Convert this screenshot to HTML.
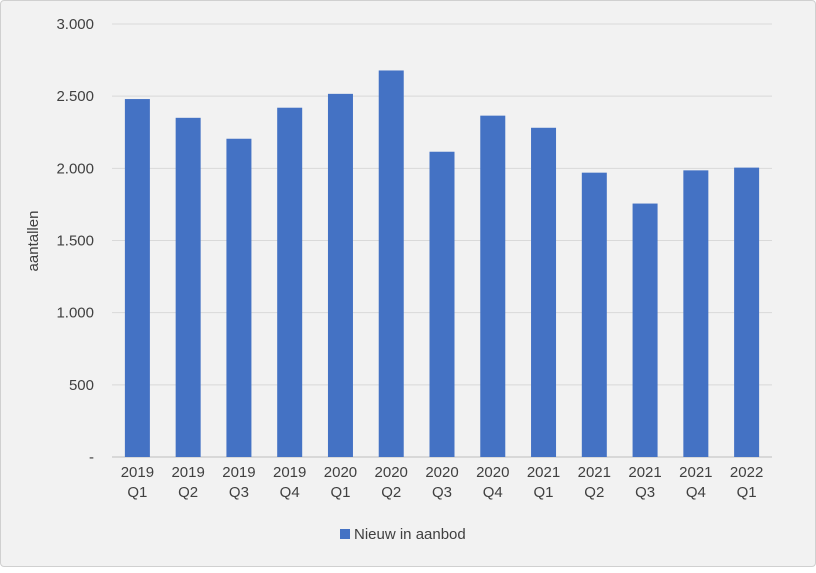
<!DOCTYPE html>
<html><head><meta charset="utf-8"><style>
body{margin:0;background:#fff}
#c{position:absolute;left:0;top:0;width:814px;height:565px;border:1px solid #d0d0d0;border-radius:4px;background:#f2f2f2}
text{font-family:"Liberation Sans",sans-serif;fill:#404040;font-size:15px}
</style></head><body>
<div id="c">
<svg id="s" width="816" height="567"></svg>
</div>
<script>
const categories=["2019 Q1","2019 Q2","2019 Q3","2019 Q4","2020 Q1","2020 Q2","2020 Q3","2020 Q4","2021 Q1","2021 Q2","2021 Q3","2021 Q4","2022 Q1"];
const values=[2480,2350,2205,2420,2516,2678,2115,2365,2281,1970,1756,1986,2005];
const ticks=[0,500,1000,1500,2000,2500,3000];
const tickLabels=["-","500","1.000","1.500","2.000","2.500","3.000"];
const seriesName="Nieuw in aanbod";
const NS="http://www.w3.org/2000/svg",s=document.getElementById('s');
const x0=111,x1=771,y0=456,y1=23,maxV=3000;
const y=v=>y0-(v/maxV)*(y0-y1);
const band=(x1-x0)/categories.length;
const xc=i=>x0+band*(i+0.5);
function mk(t,a,p){const e=document.createElementNS(NS,t);for(const k in a)e.setAttribute(k,a[k]);(p||s).appendChild(e);return e;}
ticks.forEach((t,i)=>{
 const g=mk('line',{x1:x0,x2:x1,y1:y(t),y2:y(t),stroke:i==0?'#bfbfbf':'#d9d9d9','stroke-width':1});
 
 
 const l=mk('text',{x:93,y:y(t)+5,'text-anchor':'end'});l.textContent=tickLabels[i];
 
 
});
categories.forEach((c,i)=>{
 const b=mk('rect',{x:xc(i)-12.5,y:y(values[i]),width:25,height:y0-y(values[i]),fill:'#4472c4'});
 
 
 const p=c.split(' ');
 const t=mk('text',{x:xc(i),y:476,'text-anchor':'middle'});t.textContent=p[0];
 
 
 const t2=mk('text',{x:xc(i),y:496,'text-anchor':'middle'});t2.textContent=p[1];
 
 
});
const yt=mk('text',{x:0,y:0,'text-anchor':'middle',transform:'translate(37,240) rotate(-90)'});yt.textContent='aantallen';


const lg=mk('rect',{x:339,y:528,width:10,height:10,fill:'#4472c4'});


const lt=mk('text',{x:353,y:538});lt.textContent=seriesName;


</script>
</body></html>
